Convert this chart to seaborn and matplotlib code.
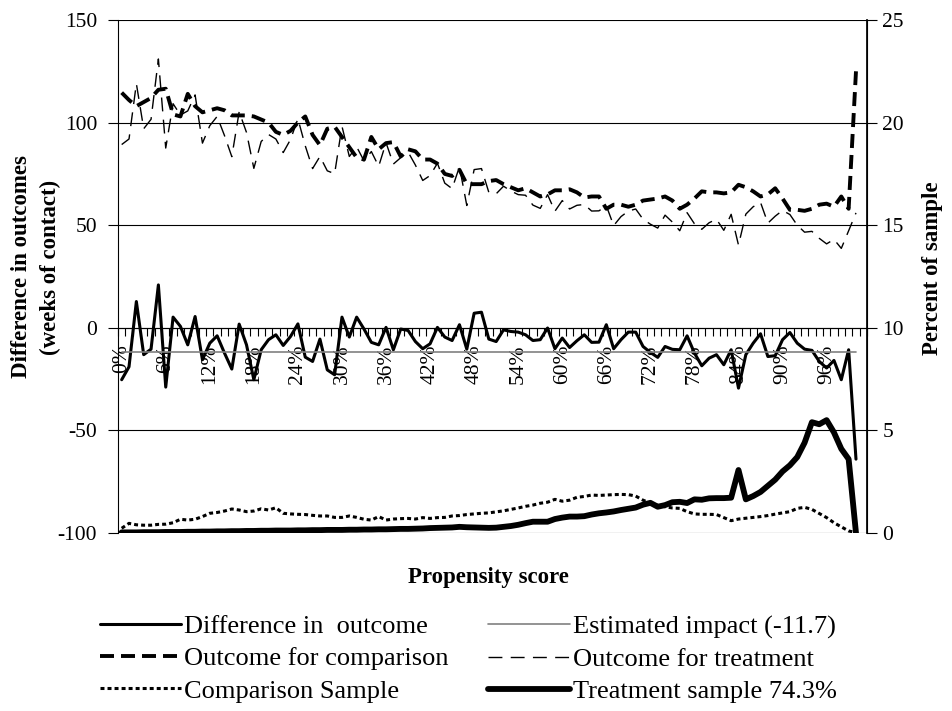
import numpy as np
import pandas as pd
import seaborn as sns
import matplotlib.pyplot as plt

# propensity score bins (0% .. 100%)
score = list(range(101))

# difference in outcome (weeks of contact), left axis
diff = [-25.3, -19.0, 12.8, -13.1, -10.4, 20.9, -28.9, 5.2, 0.7, -8.3,
        5.5, -15.6, -7.5, -3.9, -12.3, -20.1, 1.8, -8.3, -25.3, -10.7,
        -5.8, -3.4, -8.6, -4.2, 1.9, -14.3, -16.4, -5.5, -20.5, -22.9,
        5.2, -4.5, 5.2, -0.6, -7.1, -8.3, 0.2, -10.7, -0.6, -1.3,
        -6.7, -10.2, -7.8, 0.2, -4.5, -6.2, 1.5, -10.4, 7.1, 7.6,
        -5.5, -6.7, -1.0, -1.8, -2.1, -3.4, -6.2, -5.8, -0.1, -10.2,
        -5.0, -9.6, -6.3, -3.4, -7.1, -7.0, 1.5, -10.2, -5.8, -2.1,
        -2.1, -9.1, -12.0, -14.4, -9.1, -10.5, -10.7, -3.9, -12.3, -18.5,
        -14.8, -13.1, -18.0, -10.7, -29.4, -13.1, -7.5, -2.9, -14.0, -13.6,
        -5.8, -2.3, -7.5, -10.4, -11.0, -16.4, -19.6, -15.9, -25.3, -10.7,
        -64.0]

impact = -11.7

out_comp = [114.6, 111.0, 108.0, 110.0, 112.0, 116.0, 116.5, 104.0, 103.0, 114.0,
            108.0, 105.0, 106.0, 107.0, 106.0, 103.5, 103.5, 103.5, 103.0, 101.5,
            100.0, 95.5, 94.0, 96.0, 100.0, 103.0, 94.0, 89.0, 97.0, 98.0,
            93.0, 88.0, 83.0, 82.0, 93.0, 87.0, 90.0, 90.5, 83.5, 87.0,
            86.0, 82.0, 82.0, 80.0, 75.0, 74.0, 77.0, 70.0, 70.0, 70.0,
            71.5, 72.0, 70.0, 68.5, 67.0, 68.0, 66.0, 64.0, 65.0, 67.0,
            67.0, 67.5, 66.0, 63.5, 64.0, 64.0, 58.0, 60.0, 60.0, 59.0,
            60.0, 62.0, 62.5, 63.0, 64.0, 62.0, 58.0, 60.0, 63.0, 66.5,
            66.0, 66.0, 65.5, 66.0, 69.7, 68.5, 66.5, 64.0, 65.0, 68.0,
            63.0, 57.5, 57.5, 57.0, 58.0, 60.0, 60.5, 59.0, 64.0, 58.0,
            125.0]

out_treat = [89.3, 92.0, 119.0, 97.0, 101.6, 131.0, 87.6, 109.2, 103.7, 105.7,
             113.5, 90.0, 98.5, 103.0, 93.7, 83.4, 105.3, 95.2, 77.7, 90.8,
             94.2, 92.0, 85.4, 91.8, 101.9, 88.7, 77.6, 83.5, 76.5, 75.1,
             98.2, 83.5, 88.2, 81.4, 85.9, 78.7, 90.2, 79.8, 82.9, 85.7,
             79.3, 71.8, 74.2, 80.2, 70.5, 67.8, 78.5, 59.6, 77.1, 77.6,
             66.0, 65.3, 69.0, 66.7, 64.9, 64.6, 59.8, 58.2, 64.9, 56.8,
             62.0, 57.9, 59.7, 60.1, 56.9, 57.0, 59.5, 49.8, 54.2, 56.9,
             57.9, 52.9, 50.5, 48.6, 54.9, 51.5, 47.3, 56.1, 50.7, 48.0,
             51.2, 52.9, 47.5, 55.3, 40.3, 55.4, 59.0, 61.1, 51.0, 54.4,
             57.2, 55.2, 50.0, 46.6, 47.0, 43.6, 40.9, 43.1, 38.7, 47.3,
             56.0]

# percent of sample, right axis
comp_sample = [0.23, 0.47, 0.40, 0.38, 0.38, 0.42, 0.43, 0.50, 0.67, 0.63,
               0.67, 0.80, 0.96, 1.00, 1.07, 1.17, 1.12, 1.04, 1.07, 1.18,
               1.12, 1.23, 0.96, 0.93, 0.91, 0.90, 0.86, 0.83, 0.83, 0.76,
               0.76, 0.83, 0.76, 0.67, 0.63, 0.80, 0.63, 0.68, 0.70, 0.71,
               0.68, 0.75, 0.71, 0.75, 0.76, 0.83, 0.85, 0.90, 0.93, 0.96,
               0.98, 1.03, 1.08, 1.15, 1.22, 1.30, 1.36, 1.45, 1.50, 1.64,
               1.55, 1.60, 1.74, 1.78, 1.85, 1.83, 1.85, 1.87, 1.88, 1.87,
               1.80, 1.60, 1.45, 1.35, 1.28, 1.22, 1.20, 1.04, 0.93, 0.91,
               0.91, 0.90, 0.75, 0.60, 0.68, 0.72, 0.76, 0.80, 0.85, 0.92,
               0.98, 1.04, 1.20, 1.25, 1.15, 0.95, 0.75, 0.50, 0.30, 0.10,
               0.02]

treat_sample = [0.03, 0.03, 0.03, 0.04, 0.04, 0.04, 0.05, 0.05, 0.05, 0.06,
                0.06, 0.07, 0.07, 0.08, 0.08, 0.09, 0.09, 0.10, 0.10, 0.11,
                0.11, 0.12, 0.12, 0.12, 0.13, 0.13, 0.14, 0.14, 0.15, 0.15,
                0.15, 0.16, 0.16, 0.17, 0.17, 0.18, 0.18, 0.19, 0.20, 0.20,
                0.21, 0.22, 0.24, 0.25, 0.26, 0.27, 0.30, 0.28, 0.27, 0.26,
                0.25, 0.26, 0.30, 0.34, 0.40, 0.48, 0.55, 0.55, 0.55, 0.68,
                0.75, 0.80, 0.80, 0.82, 0.90, 0.96, 1.00, 1.05, 1.12, 1.18,
                1.24, 1.38, 1.47, 1.28, 1.36, 1.50, 1.52, 1.46, 1.64, 1.62,
                1.69, 1.70, 1.70, 1.72, 3.07, 1.64, 1.80, 2.00, 2.30, 2.60,
                3.00, 3.30, 3.70, 4.40, 5.40, 5.30, 5.50, 4.90, 4.10, 3.60,
                0.00]

label_ticks = list(range(0, 97, 6))

df = pd.DataFrame({
    'score': score,
    'diff': diff,
    'impact': [impact] * len(score),
    'out_comp': out_comp,
    'out_treat': out_treat,
    'comp_sample': comp_sample,
    'treat_sample': treat_sample,
})

sns.set_theme(style='ticks', rc={'axes.edgecolor': 'black', 'xtick.color': 'black',
                                 'ytick.color': 'black', 'text.color': 'black'})
plt.rcParams['font.family'] = ['Liberation Serif', 'DejaVu Serif']
plt.rcParams['axes.unicode_minus'] = False

fig = plt.figure(figsize=(9.53, 7.11), dpi=100)
ax = fig.add_axes([118 / 953, 1 - 533 / 711, 749 / 953, 513 / 711])
ax2 = ax.twinx()

sns.lineplot(data=df, x='score', y='diff', ax=ax, color='black', lw=2.2,
             label='Difference in  outcome')
sns.lineplot(data=df, x='score', y='impact', ax=ax, color='#808080', lw=1.2,
             label='Estimated impact (-11.7)')
sns.lineplot(data=df, x='score', y='out_comp', ax=ax, color='black', lw=2.8,
             linestyle=(0, (3.6, 1.8)), label='Outcome for comparison')
sns.lineplot(data=df, x='score', y='out_treat', ax=ax, color='black', lw=1.0,
             linestyle=(0, (10, 6)), label='Outcome for treatment')
sns.lineplot(data=df, x='score', y='comp_sample', ax=ax2, color='black', lw=2.2,
             linestyle=(0, (1.3, 1.0)), label='Comparison Sample')
sns.lineplot(data=df, x='score', y='treat_sample', ax=ax2, color='black', lw=4.2,
             label='Treatment sample 74.3%')

for a in (ax, ax2):
    if a.get_legend() is not None:
        a.get_legend().remove()

# left axis
ax.set_ylim(-100, 150)
ax.set_yticks(range(-100, 151, 50))
ax.tick_params(axis='y', which='major', direction='out', length=7, width=0.8,
               labelsize=15.5, pad=8)
ax.yaxis.grid(True, color='black', lw=0.8)
ax.set_axisbelow(True)
ax.set_ylabel('')
ax.set_xlabel('')

# category axis crossing at zero
ax.set_xlim(-0.5, 101.5)
ax.set_xticks(np.arange(-0.5, 102, 1))
ax.set_xticklabels([])
ax.set_xticks(label_ticks, minor=True)
ax.set_xticklabels([f'{v}%' for v in label_ticks], minor=True)
ax.tick_params(axis='x', which='major', direction='out', length=6, width=0.8)
ax.tick_params(axis='x', which='minor', length=0, pad=12, labelsize=15.5,
               labelrotation=90)
ax.spines['bottom'].set_position(('data', 0))
ax.spines['top'].set_visible(False)
for s in ('left', 'bottom'):
    ax.spines[s].set_linewidth(0.8)

# right axis
ax2.set_ylim(0, 25)
ax2.set_yticks(range(0, 26, 5))
ax2.tick_params(axis='y', direction='out', length=7, width=0.8, labelsize=15.5, pad=4)
ax2.set_ylabel('')
ax2.spines['top'].set_visible(False)
ax2.spines['bottom'].set_visible(False)
ax2.spines['left'].set_visible(False)
ax2.spines['right'].set_linewidth(0.8)

fig.text(36 / 953, 1 - 267 / 711, 'Difference in outcomes\n(weeks of contact)',
         rotation=90, ha='center', va='center', fontsize=16.5, fontweight='bold',
         multialignment='center', linespacing=1.45)
fig.text(933 / 953, 1 - 268 / 711, 'Percent of sample', rotation=90,
         ha='center', va='center', fontsize=16.5, fontweight='bold')
fig.text(488 / 953, 1 - 577 / 711, 'Propensity score', ha='center', va='center',
         fontsize=16.5, fontweight='bold')

h1, l1 = ax.get_legend_handles_labels()
h2, l2 = ax2.get_legend_handles_labels()
lookup = dict(zip(l1 + l2, h1 + h2))
order = ['Difference in  outcome', 'Outcome for comparison', 'Comparison Sample',
         'Estimated impact (-11.7)', 'Outcome for treatment', 'Treatment sample 74.3%']
fig.legend([lookup[k] for k in order], order, loc='upper center',
           bbox_to_anchor=(468 / 953, 1 - 591 / 711), ncol=2, frameon=False,
           fontsize=19, handlelength=3.1, handletextpad=0.1, columnspacing=1.5,
           labelspacing=0.33)

fig.savefig('out.png', dpi=100, facecolor='white')
